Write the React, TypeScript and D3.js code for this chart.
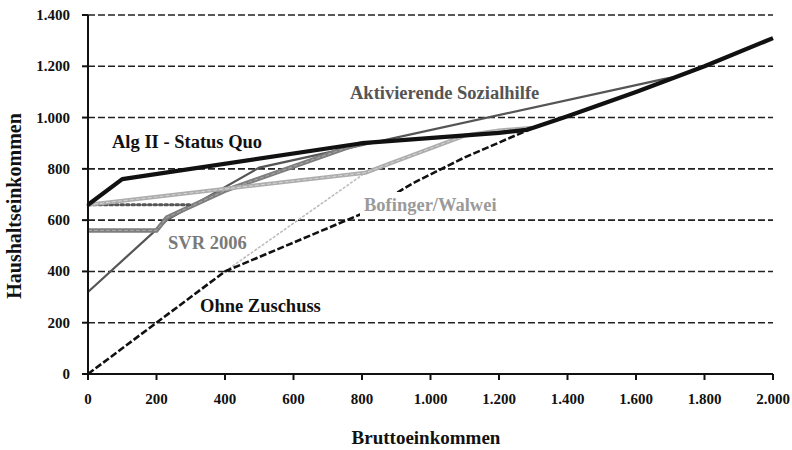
import React from "react";
import * as d3 from "d3";

const W = 792;
const H = 450;

const xTicks = [0, 200, 400, 600, 800, 1000, 1200, 1400, 1600, 1800, 2000];
const yTicks = [0, 200, 400, 600, 800, 1000, 1200, 1400];

// Bruttoeinkommen -> Haushaltseinkommen
const ohneZuschuss: [number, number][] = [
  [0, 0], [400, 400], [800, 625], [950, 745], [1100, 845], [1300, 960],
  [1400, 1005], [1600, 1100], [1800, 1200], [2000, 1310],
];
const algII: [number, number][] = [
  [0, 660], [100, 760], [800, 900], [1200, 940], [1280, 952], [1300, 960],
  [1400, 1005], [1600, 1100], [1800, 1200], [2000, 1310],
];
const aktivierende: [number, number][] = [
  [0, 320], [230, 600], [500, 805], [1680, 1150], [1720, 1160],
];
const svr2006: [number, number][] = [
  [0, 560], [200, 560], [230, 610], [400, 715], [750, 880], [800, 900],
];
const svrDotted: [number, number][] = [[0, 660], [300, 660]];
const bofingerThick: [number, number][] = [
  [0, 660], [810, 785], [900, 830], [1000, 880], [1100, 930], [1200, 950], [1300, 960],
];
const bofingerThin: [number, number][] = [[400, 400], [810, 785]];

const fmt = d3.formatLocale({ decimal: ",", thousands: ".", grouping: [3], currency: ["", "€"] }).format(",d");

const FONT = "'Liberation Serif', 'DejaVu Serif', serif";

export default function App() {
  const x = d3.scaleLinear().domain([0, 2000]).range([88, 773]);
  const y = d3.scaleLinear().domain([0, 1400]).range([374, 15]);
  const line = d3.line<[number, number]>().x((d) => x(d[0])).y((d) => y(d[1]));

  return (
    <svg width={W} height={H} style={{ position: "absolute", left: 0, top: 0, background: "#fff" }}>
      <rect x={0} y={0} width={W} height={H} fill="#fff" />
      {/* gridlines */}
      {yTicks.filter((t) => t > 0).map((t) => (
        <line key={"g" + t} x1={x(0)} x2={x(2000)} y1={y(t)} y2={y(t)} stroke="#222" strokeWidth={1.6} strokeDasharray="7,3" />
      ))}
      {/* series */}
      <path d={line(aktivierende) || ""} fill="none" stroke="#555" strokeWidth={2.2} />
      <path d={line(svr2006) || ""} fill="none" stroke="#7e7e7e" strokeWidth={4.5} />
      <path d={line(svr2006) || ""} fill="none" stroke="#a8a8a8" strokeWidth={1} strokeDasharray="4,2" />
      <path d={line(svrDotted) || ""} fill="none" stroke="#555" strokeWidth={3} strokeDasharray="2.5,3" strokeLinecap="round" />
      <path d={line(bofingerThin) || ""} fill="none" stroke="#bdbdbd" strokeWidth={1.6} strokeDasharray="3,1.5" />
      <path d={line(bofingerThick) || ""} fill="none" stroke="#adadad" strokeWidth={4} />
      <path d={line(bofingerThick) || ""} fill="none" stroke="#d6d6d6" strokeWidth={1} strokeDasharray="4,2" />
      <path d={line(ohneZuschuss) || ""} fill="none" stroke="#111" strokeWidth={2.6} strokeDasharray="7,2.5" />
      <path d={line(algII) || ""} fill="none" stroke="#111" strokeWidth={4.2} strokeLinejoin="round" />

      {/* axes */}
      <line x1={x(0)} x2={x(0)} y1={y(1400)} y2={y(0)} stroke="#111" strokeWidth={2} />
      <line x1={x(0)} x2={x(2000)} y1={y(0)} y2={y(0)} stroke="#111" strokeWidth={2} />
      {yTicks.map((t) => (
        <g key={"y" + t}>
          <line x1={x(0) - 6} x2={x(0)} y1={y(t)} y2={y(t)} stroke="#111" strokeWidth={2} />
          <text x={70} y={y(t) + 5} textAnchor="end" fontFamily={FONT} fontWeight="bold" fontSize={15} fill="#111">
            {fmt(t)}
          </text>
        </g>
      ))}
      {xTicks.map((t) => (
        <g key={"x" + t}>
          <line x1={x(t)} x2={x(t)} y1={y(0)} y2={y(0) + 6} stroke="#111" strokeWidth={2} />
          <text x={x(t)} y={404} textAnchor="middle" fontFamily={FONT} fontWeight="bold" fontSize={15} fill="#111">
            {fmt(t)}
          </text>
        </g>
      ))}
      <text x={426} y={444} textAnchor="middle" fontFamily={FONT} fontWeight="bold" fontSize={19} fill="#111">
        Bruttoeinkommen
      </text>
      <text transform="translate(21,206) rotate(-90)" textAnchor="middle" fontFamily={FONT} fontWeight="bold" fontSize={20} fill="#111">
        Haushaltseinkommen
      </text>

      {/* series labels */}
      <text x={350} y={99} fontFamily={FONT} fontWeight="bold" fontSize={18.5} fill="#555">Aktivierende Sozialhilfe</text>
      <text x={112} y={148} fontFamily={FONT} fontWeight="bold" fontSize={18.5} fill="#111">Alg II - Status Quo</text>
      <text x={168} y={249} fontFamily={FONT} fontWeight="bold" fontSize={18.5} fill="#7a7a7a">SVR 2006</text>
      <rect x={360} y={192} width={140} height={26} fill="#fff" />
      <text x={364} y={211} fontFamily={FONT} fontWeight="bold" fontSize={18.5} fill="#9a9a9a">Bofinger/Walwei</text>
      <text x={200} y={312} fontFamily={FONT} fontWeight="bold" fontSize={18.5} fill="#111">Ohne Zuschuss</text>
    </svg>
  );
}
